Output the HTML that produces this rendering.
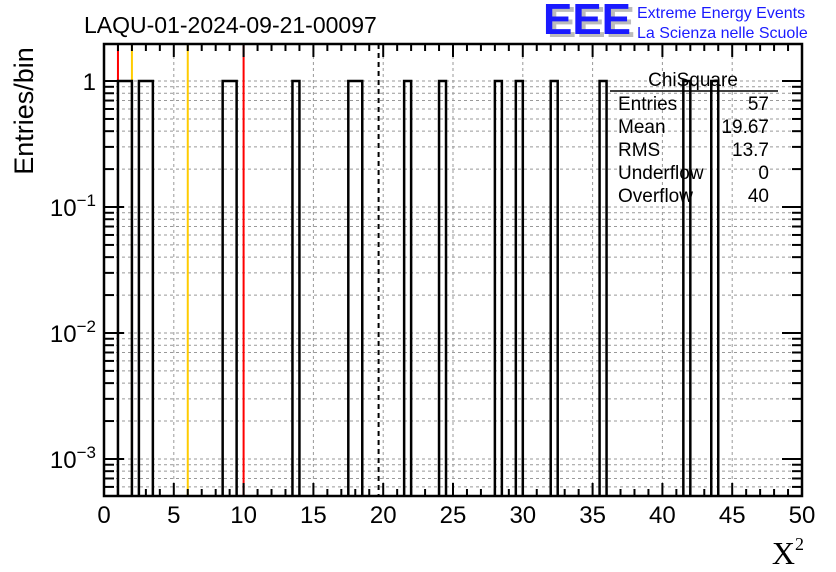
<!DOCTYPE html>
<html><head><meta charset="utf-8"><style>
body{margin:0;background:#fff;width:836px;height:572px;overflow:hidden;font-family:"Liberation Sans",sans-serif}
svg{display:block}
</style></head><body>
<svg id="c" width="836" height="572" font-family="Liberation Sans, sans-serif">
<text x="84" y="33" font-size="23">LAQU-01-2024-09-21-00097</text>
<g>
<text x="547" y="37" font-size="44" font-weight="bold" fill="#bbb" textLength="88" lengthAdjust="spacingAndGlyphs">EEE</text>
<text x="543" y="34" font-size="44" font-weight="bold" fill="#1a1aff" textLength="88" lengthAdjust="spacingAndGlyphs">EEE</text>
<text x="637" y="18" font-size="16" fill="#1a1aff">Extreme Energy Events</text>
<text x="637" y="38" font-size="16" fill="#1a1aff">La Scienza nelle Scuole</text>
</g>
<text transform="translate(33,111) rotate(-90)" text-anchor="middle" font-size="27">Entries/bin</text>
<text x="804" y="564" text-anchor="end" font-size="32" font-family="Liberation Serif, serif">X<tspan font-size="18" dy="-14">2</tspan></text>
<g id="grid"></g><g id="lines"></g><g id="bars"></g><g id="axes"></g>
<g font-size="19">
<text x="693" y="86" text-anchor="middle">ChiSquare</text>
<line x1="610" y1="91" x2="778" y2="91" stroke="#000" stroke-width="1.5"/>
<text x="618" y="110">Entries</text><text x="769" y="110" text-anchor="end">57</text>
<text x="618" y="133">Mean</text><text x="769" y="133" text-anchor="end">19.67</text>
<text x="618" y="156">RMS</text><text x="769" y="156" text-anchor="end">13.7</text>
<text x="618" y="179">Underflow</text><text x="769" y="179" text-anchor="end">0</text>
<text x="618" y="202">Overflow</text><text x="769" y="202" text-anchor="end">40</text>
</g>
</svg>
<script>
const binLow=[1.0,1.5,2.5,3.0,8.5,9.0,13.5,17.5,18.0,21.5,24.0,28.0,29.5,32.0,35.5,41.5,43.5];
const binCounts=[1,1,1,1,1,1,1,1,1,1,1,1,1,1,1,1,1];
const binWidth=0.5;
const xTicks=[0,5,10,15,20,25,30,35,40,45,50];
const yDecades=[-3,-2,-1,0];
const refRed=[1,10];
const refOrange=[2,6];
const meanVal=19.67;
const L=104,R=802,T=44,B=496,ymin=-3.294,ymax=0.294;
const X=v=>L+(v-0)/50*(R-L);
const Y=v=>B-(Math.log10(v)-ymin)/(ymax-ymin)*(B-T);
const NS='http://www.w3.org/2000/svg';
function mk(p,t,a){const e=document.createElementNS(NS,t);for(const k in a)e.setAttribute(k,a[k]);p.appendChild(e);return e;}
const grid=document.getElementById('grid'),lines=document.getElementById('lines'),bars=document.getElementById('bars'),axes=document.getElementById('axes');
xTicks.forEach(t=>{if(t>0&&t<50){const g=mk(grid,'line',{x1:X(t),x2:X(t),y1:T,y2:B,stroke:'#999','stroke-dasharray':'3,3'});

}});
[-4,-3,-2,-1,0].forEach(d=>{for(let m=1;m<10;m++){const v=m*Math.pow(10,d);const y=Y(v);if(y<T||y>B)continue;
const g=mk(grid,'line',{x1:L,x2:R,y1:y,y2:y,stroke:'#999','stroke-dasharray':'3,3'});

}});
refRed.forEach(v=>{const l=mk(lines,'line',{x1:X(v),x2:X(v),y1:T,y2:B,stroke:'#f00','stroke-width':2});

});
refOrange.forEach(v=>{const l=mk(lines,'line',{x1:X(v),x2:X(v),y1:T,y2:B,stroke:'#fc0','stroke-width':2});

});
const ml=mk(lines,'line',{x1:X(meanVal),x2:X(meanVal),y1:T,y2:B,stroke:'#000','stroke-width':2,'stroke-dasharray':'5,4'});


let i=0;
while(i<binLow.length){let j=i;while(j+1<binLow.length&&Math.abs(binLow[j+1]-binLow[j]-binWidth)<1e-6&&binCounts[j+1]===binCounts[i])j++;
const x1=X(binLow[i]),x2=X(binLow[j]+binWidth),y=Y(binCounts[i]);
const p=mk(bars,'path',{d:`M${x1},${B}V${y}H${x2}V${B}`,fill:'none',stroke:'#000','stroke-width':2.5});


i=j+1;}
const fr=mk(axes,'rect',{x:L,y:T,width:R-L,height:B-T,fill:'none',stroke:'#000','stroke-width':2.5});


for(let k=0;k<=50;k++){const x=X(k);const major=k%5===0;const h=major?13:7;
mk(axes,'line',{x1:x,x2:x,y1:B,y2:B-h,stroke:'#000','stroke-width':2});
mk(axes,'line',{x1:x,x2:x,y1:T,y2:T+h,stroke:'#000','stroke-width':2});}
xTicks.forEach(t=>{const tx=mk(axes,'text',{x:X(t),y:523,'text-anchor':'middle','font-size':24});tx.textContent=t;

});
[-4,-3,-2,-1,0].forEach(d=>{for(let m=1;m<10;m++){const v=m*Math.pow(10,d);const y=Y(v);if(y<T||y>B)continue;const h=m===1?20:10;
mk(axes,'line',{x1:L,x2:L+h,y1:y,y2:y,stroke:'#000','stroke-width':2});
mk(axes,'line',{x1:R,x2:R-h,y1:y,y2:y,stroke:'#000','stroke-width':2});}});
yDecades.forEach(d=>{const y=Y(Math.pow(10,d));const tx=mk(axes,'text',{x:96,y:y+9,'text-anchor':'end','font-size':24});
if(d===0)tx.textContent='1';else{tx.textContent='10';const s=mk(tx,'tspan',{dy:-10,'font-size':17});s.textContent='\u2212'+(-d);}

});
</script>
</body></html>
